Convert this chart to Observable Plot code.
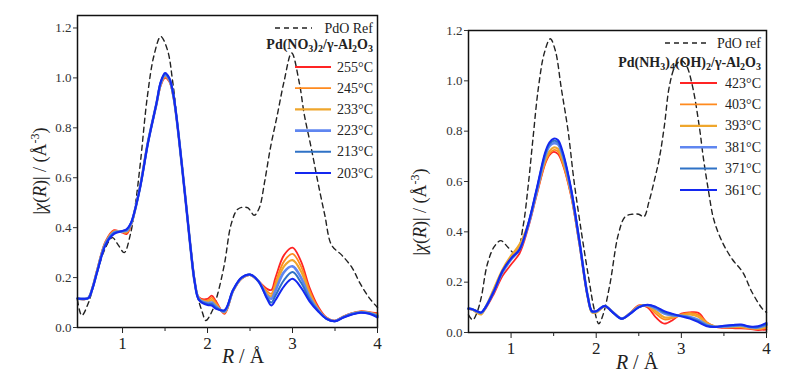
<!DOCTYPE html>
<html><head><meta charset="utf-8">
<script src="https://cdn.jsdelivr.net/npm/d3@7"></script>
<script src="https://cdn.jsdelivr.net/npm/@observablehq/plot@0.6"></script>
<style>
body{margin:0;background:#fff;}
#wrap{position:relative;width:800px;height:382px;overflow:hidden;background:#fff;font-family:'Liberation Serif',serif;}
#wrap svg{position:absolute;top:0;}
#wrap svg text{font-family:'Liberation Serif',serif;}
</style></head><body><div id="wrap"></div>
<script>
// ---------- Left panel: Pd(NO3)2/γ-Al2O3 ----------
const gridL = [0.47,0.55,0.6,0.65,0.7,0.8,0.9,1.0,1.05,1.1,1.2,1.3,1.4,1.45,1.5,1.55,1.6,1.7,1.8,1.85,1.9,2.0,2.05,2.1,2.2,2.3,2.4,2.5,2.6,2.7,2.75,2.8,2.9,3.0,3.1,3.2,3.3,3.4,3.5,3.6,3.7,3.8,3.9,4.0];
const s255 = [0.116,0.113,0.12,0.165,0.23, 0.345,0.39,0.38,0.375,0.41, 0.555,0.745,0.895,0.97,1.0, 0.985,0.92,0.645,0.32,0.18, 0.12,0.115,0.128,0.105,0.055, 0.145,0.195,0.21,0.185,0.155, 0.15,0.2,0.29,0.32,0.265, 0.16,0.085,0.04,0.028,0.045, 0.058,0.065,0.062,0.058];
const s245 = [0.116,0.113,0.12,0.164,0.228, 0.342,0.387,0.382,0.38,0.412, 0.554,0.745,0.896,0.973,1.004, 0.988,0.922,0.645,0.32,0.18, 0.118,0.108,0.12,0.098,0.058, 0.146,0.196,0.21,0.185,0.145, 0.135,0.18,0.265,0.295,0.245, 0.148,0.078,0.038,0.027,0.044, 0.057,0.064,0.061,0.054];
const s233 = [0.116,0.114,0.119,0.163,0.226, 0.339,0.384,0.383,0.384,0.414, 0.553,0.744,0.897,0.976,1.008, 0.991,0.924,0.645,0.32,0.18, 0.116,0.103,0.11,0.09,0.061, 0.147,0.197,0.211,0.185,0.135, 0.125,0.165,0.245,0.27,0.225, 0.135,0.073,0.037,0.026,0.043, 0.056,0.063,0.06,0.05];
const s223 = [0.116,0.114,0.119,0.162,0.224, 0.336,0.381,0.385,0.388,0.416, 0.552,0.743,0.898,0.979,1.012, 0.994,0.926,0.645,0.32,0.18, 0.114,0.098,0.1,0.084,0.064, 0.148,0.198,0.211,0.185,0.127, 0.115,0.148,0.222,0.245,0.2, 0.122,0.07,0.036,0.026,0.042, 0.055,0.061,0.058,0.047];
const s213 = [0.116,0.115,0.118,0.161,0.222, 0.333,0.378,0.386,0.392,0.418, 0.551,0.742,0.899,0.982,1.016, 0.997,0.928,0.645,0.32,0.18, 0.112,0.094,0.094,0.08,0.067, 0.149,0.199,0.212,0.185,0.12, 0.1,0.128,0.19,0.222,0.18, 0.113,0.067,0.035,0.025,0.041, 0.053,0.06,0.057,0.044];
const s203 = [0.116,0.115,0.118,0.16,0.22, 0.33,0.375,0.387,0.395,0.42, 0.55,0.74,0.9,0.985,1.02, 1.0,0.93,0.645,0.32,0.18, 0.11,0.09,0.088,0.075,0.07, 0.15,0.2,0.212,0.185,0.115, 0.088,0.11,0.165,0.195,0.16, 0.105,0.065,0.035,0.025,0.04, 0.052,0.059,0.055,0.04];
const refGridL = [0.47,0.52,0.6,0.7,0.8,0.88,0.95,1.02,1.09,1.15,1.21,1.29,1.37,1.45,1.53,1.59,1.66,1.72,1.8,1.88,1.94,1.98,2.06,2.12,2.2,2.28,2.36,2.47,2.55,2.61,2.67,2.74,2.82,2.9,2.99,3.08,3.14,3.22,3.3,3.38,3.46,3.58,3.7,3.79,3.9,4.0];
const refL = [0.11,0.048,0.10,0.22,0.32,0.36,0.33,0.30,0.37,0.49,0.66,0.92,1.09,1.166,1.11,0.985,0.78,0.58,0.33,0.13,0.06,0.028,0.07,0.135,0.256,0.416,0.475,0.48,0.45,0.48,0.58,0.72,0.85,0.985,1.10,0.98,0.85,0.72,0.58,0.45,0.33,0.29,0.24,0.18,0.12,0.08];
const labelsL = ["255°C","245°C","233°C","223°C","213°C","203°C"];

// ---------- Right panel: Pd(NH3)4(OH)2/γ-Al2O3 ----------
const gridR = [0.5,0.55,0.6,0.65,0.7,0.8,0.9,1.0,1.1,1.2,1.3,1.4,1.45,1.5,1.55,1.6,1.7,1.8,1.9,1.95,2.0,2.1,2.2,2.3,2.4,2.5,2.6,2.7,2.8,2.9,3.0,3.1,3.2,3.3,3.4,3.5,3.6,3.7,3.8,3.9,4.0];
const s423 = [0.095,0.09,0.083,0.078,0.095, 0.155,0.225,0.27,0.315,0.415, 0.545,0.67,0.705,0.718,0.71, 0.675,0.55,0.355,0.14,0.085, 0.085,0.105,0.08,0.055,0.078, 0.108,0.1,0.06,0.035,0.05, 0.075,0.08,0.078,0.04,0.022, 0.018,0.017,0.016,0.014,0.01, 0.012];
const s403 = [0.095,0.09,0.08,0.075,0.1, 0.17,0.245,0.295,0.345,0.425, 0.55,0.675,0.71,0.725,0.72, 0.68,0.555,0.36,0.142,0.08, 0.08,0.103,0.08,0.056,0.078, 0.106,0.105,0.075,0.052,0.058, 0.072,0.078,0.07,0.04,0.024, 0.02,0.02,0.02,0.016,0.014, 0.018];
const s393 = [0.095,0.09,0.078,0.072,0.1, 0.175,0.25,0.305,0.35,0.43, 0.555,0.685,0.72,0.735,0.73, 0.69,0.56,0.362,0.143,0.08, 0.08,0.104,0.079,0.055,0.077, 0.104,0.107,0.085,0.06,0.062, 0.068,0.072,0.063,0.036,0.024, 0.022,0.022,0.022,0.018,0.016, 0.022];
const s381 = [0.095,0.091,0.083,0.078,0.1, 0.165,0.24,0.29,0.33,0.425, 0.56,0.70,0.74,0.752,0.748, 0.71,0.57,0.366,0.145,0.083, 0.083,0.105,0.079,0.055,0.076, 0.102,0.108,0.095,0.075,0.068, 0.066,0.062,0.05,0.03,0.023, 0.024,0.026,0.028,0.021,0.02, 0.03];
const s371 = [0.095,0.092,0.084,0.079,0.1, 0.165,0.243,0.293,0.33,0.428, 0.565,0.708,0.748,0.762,0.757, 0.718,0.575,0.368,0.145,0.084, 0.084,0.105,0.078,0.055,0.075, 0.101,0.109,0.1,0.08,0.071, 0.065,0.058,0.045,0.027,0.022, 0.026,0.028,0.03,0.023,0.022, 0.034];
const s361 = [0.095,0.092,0.085,0.08,0.1, 0.165,0.245,0.295,0.33,0.43, 0.57,0.715,0.755,0.77,0.765, 0.725,0.58,0.37,0.145,0.085, 0.085,0.105,0.078,0.055,0.075, 0.1,0.11,0.102,0.085,0.074, 0.064,0.055,0.041,0.025,0.022, 0.027,0.03,0.032,0.024,0.025, 0.038];
const refGridR = [0.5,0.55,0.6,0.65,0.72,0.8,0.88,0.96,1.06,1.14,1.2,1.26,1.32,1.39,1.46,1.52,1.59,1.67,1.74,1.83,1.91,1.98,2.03,2.08,2.16,2.26,2.34,2.42,2.5,2.56,2.62,2.68,2.74,2.8,2.86,2.93,3.0,3.06,3.13,3.21,3.26,3.32,3.38,3.48,3.6,3.72,3.83,3.95,4.0];
const refR = [0.07,0.05,0.08,0.14,0.27,0.34,0.365,0.34,0.31,0.42,0.58,0.78,0.97,1.11,1.167,1.12,0.97,0.8,0.6,0.39,0.22,0.087,0.035,0.07,0.19,0.39,0.46,0.47,0.47,0.46,0.52,0.6,0.69,0.82,0.98,1.06,1.08,1.06,0.98,0.82,0.69,0.56,0.45,0.36,0.29,0.24,0.16,0.095,0.08];
const labelsR = ["423°C","403°C","393°C","381°C","371°C","361°C"];

const yTicks = [0,0.2,0.4,0.6,0.8,1.0,1.2];
const xTicks = [1,2,3,4];
const xMinor = [1.5,2.5,3.5];

// styles (not data)
const colors = ["#ff2424","#ff8a1e","#efa62c","#5f86f0","#2f72c6","#1428f0"];
const widths = [1.8,1.8,2.2,2.6,2.0,2.0];
const FONT = "'Liberation Serif', serif";

function table(grid, vals){ return grid.map((R,i)=>({R, v: vals[i]})); }

function panel(cfg){
  const marks = [
    Plot.line(table(cfg.refGrid, cfg.ref), {x:"R", y:"v", stroke:"#222", strokeWidth:1.4, strokeDasharray:"5,4", curve:"catmull-rom"}),
    ...cfg.series.map((s,i)=>Plot.line(table(cfg.grid, s), {x:"R", y:"v", stroke: colors[i], strokeWidth: widths[i], curve:"catmull-rom"})),
    Plot.frame({stroke:"#111", strokeWidth:1.5}),
    Plot.axisX({ticks: xTicks, tickSize:6, tickPadding:3, tickFormat: d=>String(d), fontSize:17, color:"#222", label:null}),
    Plot.axisX({ticks: xMinor, tickSize:4, tickFormat: ()=>"", label:null, color:"#222"}),
    Plot.axisY({ticks: yTicks, tickSize:4, tickPadding:2, tickFormat: d3.format(".1f"), fontSize:13, color:"#333", label:null})
  ];
  const svg = Plot.plot({
    width: 400, height: 382,
    marginLeft: cfg.m[0], marginRight: cfg.m[1], marginTop: cfg.m[2], marginBottom: cfg.m[3],
    x: {domain: cfg.xDomain},
    y: {domain: cfg.yDomain},
    style: {fontFamily: FONT, background: "transparent", overflow: "visible"},
    marks
  });
  const g = d3.select(svg).append("g").style("font-family", FONT).attr("fill","#222");
  const L = cfg.leg;
  g.append("line").attr("x1",L.refX1).attr("x2",L.refX2).attr("y1",L.refY).attr("y2",L.refY)
    .attr("stroke","#222").attr("stroke-width",1.4).attr("stroke-dasharray","5,4");
  g.append("text").attr("x",L.right).attr("y",L.refY+4.5).attr("text-anchor","end").attr("font-size",14).text(cfg.refLabel);
  const t = g.append("text").attr("x",L.right).attr("y",L.titleY).attr("text-anchor","end").attr("font-size",14).attr("font-weight","bold");
  let sub = false;
  cfg.title.forEach(([s,isSub])=>{
    const ts = t.append("tspan").text(s);
    if (isSub && !sub){ ts.attr("dy",3).attr("font-size",10); sub=true; }
    else if (isSub){ ts.attr("font-size",10); }
    else if (!isSub && sub){ ts.attr("dy",-3); sub=false; }
  });
  cfg.labels.forEach((lab,i)=>{
    const y = L.rowY0 + i*L.rowStep;
    g.append("line").attr("x1",L.lineX1).attr("x2",L.lineX2).attr("y1",y).attr("y2",y).attr("stroke",colors[i]).attr("stroke-width",widths[i]);
    g.append("text").attr("x",L.right).attr("y",y+4.5).attr("text-anchor","end").attr("font-size",14).text(lab);
  });
  const yl = g.append("text").attr("transform",`translate(${cfg.yl[0]},${cfg.yl[1]}) rotate(-90)`).attr("text-anchor","middle").attr("font-size",18);
  yl.append("tspan").text("|");
  yl.append("tspan").attr("font-style","italic").text("χ");
  yl.append("tspan").text("(");
  yl.append("tspan").attr("font-style","italic").text("R");
  yl.append("tspan").text(")| / (Å");
  yl.append("tspan").attr("dy",-7).attr("font-size",12).text("-3");
  yl.append("tspan").attr("dy",7).text(")");
  const xl = g.append("text").attr("x",cfg.xl[0]).attr("y",cfg.xl[1]).attr("text-anchor","middle").attr("font-size",20);
  xl.append("tspan").attr("font-style","italic").text("R");
  xl.append("tspan").text(" / Å");
  return svg;
}

const wrap = document.getElementById("wrap");
const left = panel({
  grid: gridL, series: [s255,s245,s233,s223,s213,s203], refGrid: refGridL, ref: refL,
  labels: labelsL, refLabel: "PdO Ref",
  title: [["Pd(NO",0],["3",1],[")",0],["2",1],["/γ-Al",0],["2",1],["O",0],["3",1]],
  xDomain:[0.47,4], yDomain:[0,1.25], m:[77,23,15,55],
  leg:{refX1:275, refX2:312, refY:28, right:373, titleY:49, rowY0:67, rowStep:21.2, lineX1:295, lineX2:331},
  yl:[46,171], xl:[243,363]
});
left.style.left = "0px";
wrap.appendChild(left);
const right = panel({
  grid: gridR, series: [s423,s403,s393,s381,s371,s361], refGrid: refGridR, ref: refR,
  labels: labelsR, refLabel: "PdO ref",
  title: [["Pd(NH",0],["3",1],[")",0],["4",1],["(OH)",0],["2",1],["/γ-Al",0],["2",1],["O",0],["3",1]],
  xDomain:[0.5,4], yDomain:[0,1.2], m:[68,34,30,50],
  leg:{refX1:265, refX2:310, refY:43, right:361, titleY:67, rowY0:83, rowStep:21.4, lineX1:280, lineX2:317},
  yl:[26,212], xl:[237,369]
});
right.style.left = "400px";
wrap.appendChild(right);
</script></body></html>
